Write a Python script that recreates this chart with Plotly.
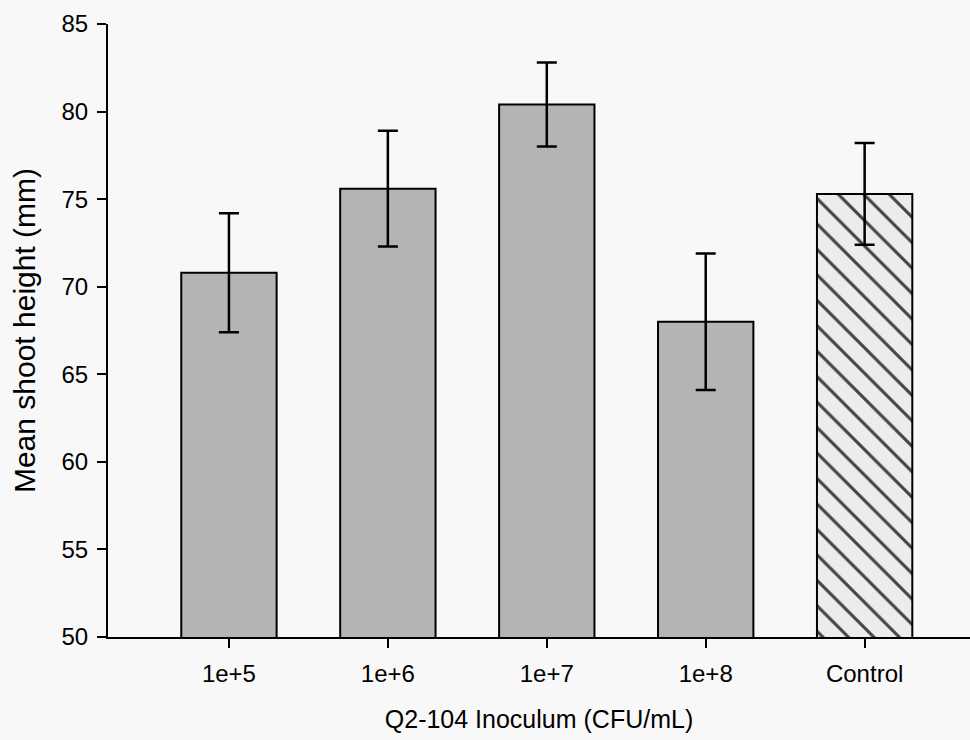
import plotly.graph_objects as go

categories = ["1e+5", "1e+6", "1e+7", "1e+8", "Control"]
mean_height = [70.8, 75.6, 80.4, 68.0, 75.3]
std_error = [3.4, 3.3, 2.4, 3.9, 2.9]
y_ticks = [50, 55, 60, 65, 70, 75, 80, 85]

bar_colors = ["#b4b4b4", "#b4b4b4", "#b4b4b4", "#b4b4b4", "#ececec"]
pattern_shapes = ["", "", "", "", "\\"]

fig = go.Figure()
fig.add_trace(go.Bar(
    x=categories,
    y=mean_height,
    width=0.6,
    marker=dict(
        color=bar_colors,
        line=dict(color="black", width=2),
        pattern=dict(shape=pattern_shapes, fgcolor="black", fgopacity=1,
                     fillmode="overlay", size=18, solidity=0.17),
    ),
    error_y=dict(type="data", array=std_error, visible=True,
                 color="black", thickness=2.5, width=10),
    showlegend=False,
))

font_family = "Liberation Sans, Arial, sans-serif"

fig.update_layout(
    width=970, height=740,
    margin=dict(l=108, r=0, t=24, b=103),
    paper_bgcolor="#f8f8f8",
    plot_bgcolor="#f8f8f8",
    font=dict(family=font_family, color="black", size=24),
    xaxis=dict(
        range=[-0.761, 4.663],
        showline=True, linecolor="black", linewidth=2,
        ticks="outside", ticklen=9, tickwidth=2, tickcolor="black",
        tickfont=dict(family=font_family, size=24, color="black"),
        ticklabelstandoff=5,
        showgrid=False, zeroline=False,
        title=dict(text="Q2-104 Inoculum (CFU/mL)", font=dict(size=25), standoff=25),
    ),
    yaxis=dict(
        range=[50, 85],
        tickvals=y_ticks,
        showline=True, linecolor="black", linewidth=2,
        ticks="outside", ticklen=9, tickwidth=2, tickcolor="black",
        tickfont=dict(family=font_family, size=24, color="black"),
        ticklabelstandoff=4,
        showgrid=False, zeroline=False,
        title=dict(text="Mean shoot height (mm)", font=dict(size=30), standoff=17),
    ),
    bargap=0.4,
)

fig.write_html("out.html")
